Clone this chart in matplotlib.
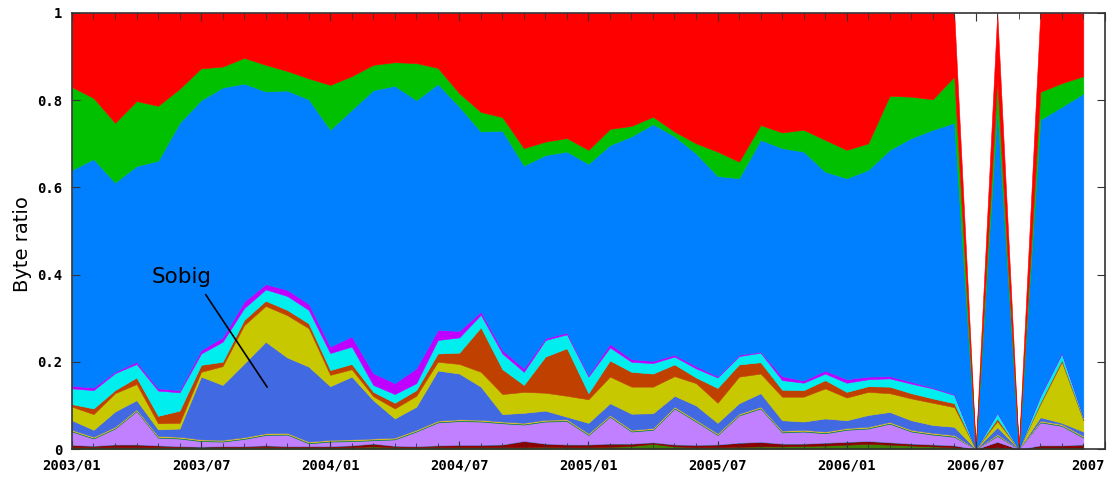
import numpy as np
import matplotlib
matplotlib.use("Agg")
import matplotlib.pyplot as plt

# monthly byte ratios, 2003/01 .. 2006/12, stacked from bottom to top
olive = [0.004, 0.004, 0.004, 0.004, 0.004, 0.004, 0.004, 0.004, 0.004, 0.004, 0.004, 0.004,
         0.004, 0.004, 0.006, 0.004, 0.004, 0.004, 0.004, 0.004, 0.004, 0.004, 0.005, 0.004,
         0.004, 0.005, 0.007, 0.012, 0.006, 0.004, 0.004, 0.005, 0.006, 0.006, 0.007, 0.008,
         0.010, 0.012, 0.010, 0.008, 0.006, 0.004, 0.0, 0.004, 0.0, 0.003, 0.003, 0.003]
darkred = [0.005, 0.003, 0.006, 0.006, 0.004, 0.002, 0.001, 0.002, 0.002, 0.004, 0.002, 0.002,
           0.002, 0.004, 0.006, 0.003, 0.002, 0.004, 0.005, 0.005, 0.006, 0.014, 0.007, 0.006,
           0.006, 0.007, 0.005, 0.003, 0.004, 0.005, 0.006, 0.009, 0.010, 0.006, 0.005, 0.006,
           0.006, 0.006, 0.005, 0.004, 0.004, 0.004, 0.0, 0.012, 0.0, 0.005, 0.005, 0.007]
steelblue = [0.001, 0.001, 0.001, 0.001, 0.001, 0.001, 0.001, 0.001, 0.001, 0.001, 0.001, 0.001,
             0.001, 0.001, 0.001, 0.001, 0.001, 0.001, 0.001, 0.001, 0.001, 0.001, 0.001, 0.001,
             0.001, 0.001, 0.001, 0.001, 0.001, 0.001, 0.001, 0.001, 0.001, 0.001, 0.001, 0.001,
             0.001, 0.001, 0.001, 0.001, 0.001, 0.001, 0.0, 0.001, 0.0, 0.001, 0.001, 0.001]
purple = [0.030, 0.016, 0.036, 0.076, 0.017, 0.017, 0.012, 0.010, 0.016, 0.023, 0.026, 0.006,
          0.010, 0.009, 0.007, 0.014, 0.033, 0.052, 0.054, 0.053, 0.048, 0.037, 0.050, 0.053,
          0.021, 0.061, 0.027, 0.028, 0.082, 0.053, 0.021, 0.062, 0.076, 0.025, 0.027, 0.021,
          0.027, 0.028, 0.042, 0.027, 0.022, 0.019, 0.0, 0.013, 0.0, 0.052, 0.044, 0.015]
darkgreen = [0.002, 0.002, 0.002, 0.002, 0.002, 0.002, 0.002, 0.002, 0.002, 0.002, 0.002, 0.002,
             0.002, 0.002, 0.002, 0.002, 0.002, 0.002, 0.002, 0.002, 0.002, 0.002, 0.002, 0.002,
             0.002, 0.002, 0.002, 0.002, 0.002, 0.002, 0.002, 0.002, 0.002, 0.002, 0.002, 0.002,
             0.002, 0.002, 0.002, 0.002, 0.002, 0.002, 0.0, 0.002, 0.0, 0.002, 0.002, 0.002]
goldenrod = [0.002, 0.002, 0.002, 0.002, 0.002, 0.002, 0.002, 0.002, 0.002, 0.002, 0.002, 0.002,
             0.002, 0.002, 0.002, 0.002, 0.002, 0.002, 0.002, 0.002, 0.002, 0.002, 0.002, 0.002,
             0.002, 0.002, 0.002, 0.002, 0.002, 0.002, 0.002, 0.002, 0.002, 0.002, 0.002, 0.002,
             0.002, 0.002, 0.002, 0.002, 0.002, 0.002, 0.0, 0.002, 0.0, 0.002, 0.002, 0.002]
sobig = [0.022, 0.016, 0.035, 0.021, 0.015, 0.019, 0.144, 0.126, 0.169, 0.210, 0.173, 0.172,
         0.123, 0.144, 0.088, 0.044, 0.053, 0.115, 0.105, 0.076, 0.017, 0.023, 0.021, 0.006,
         0.024, 0.027, 0.037, 0.034, 0.025, 0.033, 0.024, 0.024, 0.031, 0.024, 0.019, 0.030,
         0.018, 0.027, 0.023, 0.022, 0.018, 0.019, 0.0, 0.016, 0.0, 0.008, 0.003, 0.010]
yellow = [0.031, 0.036, 0.042, 0.037, 0.014, 0.013, 0.011, 0.043, 0.088, 0.082, 0.097, 0.088,
          0.026, 0.017, 0.009, 0.023, 0.025, 0.020, 0.022, 0.034, 0.046, 0.048, 0.041, 0.048,
          0.054, 0.061, 0.062, 0.061, 0.045, 0.051, 0.046, 0.061, 0.045, 0.054, 0.057, 0.069,
          0.052, 0.053, 0.043, 0.050, 0.051, 0.045, 0.0, 0.014, 0.0, 0.030, 0.140, 0.026]
brown = [0.006, 0.013, 0.007, 0.015, 0.017, 0.028, 0.016, 0.010, 0.012, 0.012, 0.012, 0.011,
         0.011, 0.012, 0.010, 0.013, 0.013, 0.019, 0.026, 0.102, 0.057, 0.016, 0.083, 0.109,
         0.014, 0.037, 0.034, 0.030, 0.027, 0.013, 0.034, 0.028, 0.026, 0.016, 0.015, 0.019,
         0.013, 0.013, 0.015, 0.012, 0.010, 0.009, 0.0, 0.006, 0.0, 0.004, 0.005, 0.003]
cyan = [0.036, 0.042, 0.039, 0.031, 0.058, 0.042, 0.026, 0.046, 0.027, 0.026, 0.032, 0.031,
        0.039, 0.040, 0.016, 0.020, 0.016, 0.031, 0.035, 0.029, 0.036, 0.030, 0.038, 0.032,
        0.038, 0.030, 0.023, 0.024, 0.018, 0.021, 0.024, 0.019, 0.022, 0.022, 0.017, 0.015,
        0.021, 0.016, 0.019, 0.022, 0.023, 0.019, 0.0, 0.013, 0.0, 0.015, 0.014, 0.004]
magenta = [0.006, 0.006, 0.003, 0.005, 0.005, 0.005, 0.008, 0.010, 0.015, 0.012, 0.014, 0.014,
           0.015, 0.023, 0.027, 0.025, 0.034, 0.023, 0.015, 0.007, 0.008, 0.008, 0.004, 0.004,
           0.004, 0.008, 0.006, 0.005, 0.004, 0.005, 0.003, 0.003, 0.002, 0.009, 0.005, 0.007,
           0.008, 0.006, 0.005, 0.004, 0.002, 0.002, 0.0, 0.001, 0.0, 0.002, 0.002, 0.001]
blue = [0.495, 0.524, 0.434, 0.449, 0.522, 0.613, 0.573, 0.573, 0.500, 0.442, 0.457, 0.469,
        0.497, 0.520, 0.649, 0.682, 0.615, 0.564, 0.514, 0.413, 0.503, 0.465, 0.420, 0.415,
        0.484, 0.456, 0.511, 0.543, 0.501, 0.488, 0.459, 0.405, 0.486, 0.523, 0.525, 0.456,
        0.461, 0.474, 0.519, 0.559, 0.591, 0.622, 0.0, 0.696, 0.0, 0.631, 0.564, 0.741]
green = [0.190, 0.140, 0.137, 0.149, 0.126, 0.078, 0.073, 0.048, 0.059, 0.061, 0.045, 0.048,
         0.103, 0.077, 0.058, 0.054, 0.085, 0.037, 0.031, 0.045, 0.031, 0.040, 0.031, 0.031,
         0.032, 0.037, 0.024, 0.017, 0.011, 0.023, 0.056, 0.038, 0.034, 0.036, 0.050, 0.073,
         0.065, 0.061, 0.124, 0.095, 0.070, 0.106, 0.0, 0.066, 0.0, 0.064, 0.054, 0.040]
red = [0.170, 0.195, 0.252, 0.202, 0.213, 0.174, 0.127, 0.123, 0.103, 0.119, 0.133, 0.150,
       0.165, 0.145, 0.119, 0.113, 0.115, 0.126, 0.184, 0.227, 0.239, 0.310, 0.295, 0.287,
       0.314, 0.266, 0.259, 0.238, 0.272, 0.299, 0.318, 0.341, 0.257, 0.274, 0.268, 0.291,
       0.314, 0.299, 0.190, 0.192, 0.198, 0.146, 0.0, 0.154, 0.0, 0.181, 0.161, 0.144]

layers = [olive, darkred, steelblue, purple, darkgreen, goldenrod, sobig,
          yellow, brown, cyan, magenta, blue, green, red]
colors = ['#408000', '#8b0000', '#306080', '#c080ff', '#008040', '#ffc020', '#4169e1',
          '#c8c800', '#c04000', '#00eeee', '#c000ff', '#0080ff', '#00c000', '#ff0000']

tick_labels = ['2003/01', '2003/07', '2004/01', '2004/07', '2005/01',
               '2005/07', '2006/01', '2006/07', '2007']

months = np.arange(len(red))

fig = plt.figure(figsize=(11.16, 4.79), dpi=100)
ax = fig.add_axes([0.0645, 0.0626, 0.9255, 0.9104])

polys = ax.stackplot(months, *layers, colors=colors, linewidth=0.4)
for p, c in zip(polys, colors):
    p.set_edgecolor(c)

ax.set_xlim(0, 48)
ax.set_ylim(0, 1)

mono = {'family': 'DejaVu Sans Mono', 'weight': 'bold', 'size': 10}
ax.set_xticks(np.arange(0, 49, 6))
ax.set_xticklabels(tick_labels, fontdict=mono)
ax.get_xticklabels()[-1].set_horizontalalignment('right')
ax.set_xticks(np.arange(0, 49, 1), minor=True)
ax.set_yticks([0, 0.2, 0.4, 0.6, 0.8, 1])
ax.set_yticklabels(['0', '0.2', '0.4', '0.6', '0.8', '1'], fontdict=mono)
ax.tick_params(which='both', direction='in', top=True, right=True, color='#333333')
ax.tick_params(which='major', length=6, pad=7)
ax.tick_params(which='minor', length=4)
for s in ax.spines.values():
    s.set_color('#333333')
    s.set_linewidth(1.2)

ax.set_ylabel('Byte ratio', fontsize=14, fontfamily='DejaVu Sans')
ax.yaxis.set_label_coords(-0.039, 0.47)

ax.annotate('Sobig', xy=(9.07, 0.142), xytext=(3.7, 0.394),
            fontsize=15.5, fontfamily='DejaVu Sans', va='center', ha='left',
            arrowprops=dict(arrowstyle='-', color='black', lw=1.2,
                            shrinkA=4, shrinkB=0, relpos=(0.82, 0.0)))

fig.savefig('out.png', dpi=100)
